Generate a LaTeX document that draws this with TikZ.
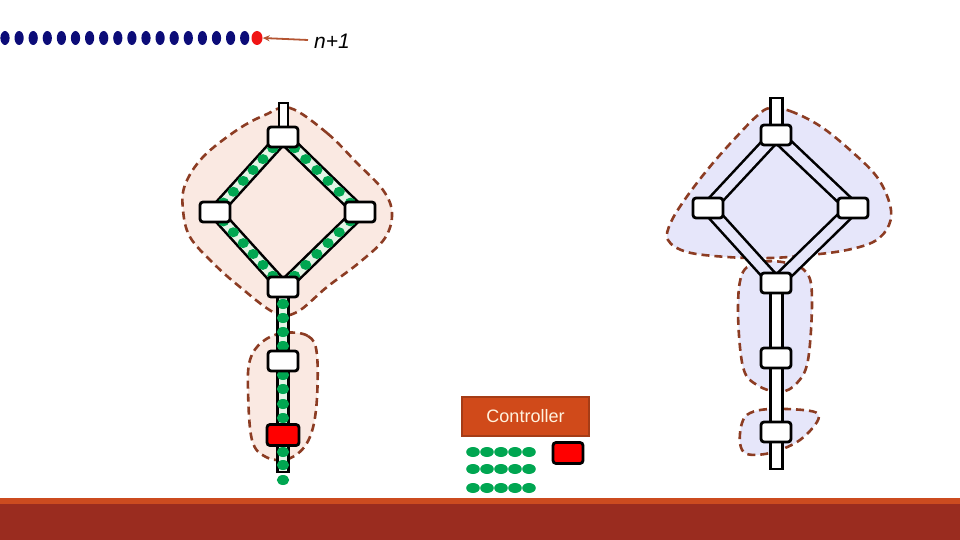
\documentclass[tikz,border=0pt]{standalone}
\usepackage{fontspec}
\setmainfont{Liberation Sans}
\usetikzlibrary{calc,backgrounds,arrows.meta,shapes.geometric}
\definecolor{navydot}{RGB}{12,12,120}
\definecolor{reddot}{RGB}{240,20,20}
\definecolor{greendot}{RGB}{0,166,81}
\definecolor{hullbrown}{RGB}{140,60,35}
\definecolor{pinkfill}{RGB}{250,233,226}
\definecolor{lavfill}{RGB}{230,230,250}
\definecolor{mint}{RGB}{228,244,230}
\definecolor{ctrlfill}{RGB}{208,74,26}
\definecolor{ctrlborder}{RGB}{165,60,22}
\definecolor{ctrltext}{RGB}{255,242,222}
\definecolor{barorange}{RGB}{204,75,31}
\definecolor{bardark}{RGB}{154,44,31}
\definecolor{arrowbrown}{RGB}{180,85,50}
\begin{document}
\begin{tikzpicture}[x=1pt,y=-1pt,
  box/.style={draw=black, line width=2.8pt, fill=white, rounded corners=3pt,
    minimum width=30pt, minimum height=20pt, inner sep=0pt},
  redbox/.style={box, fill=red, minimum width=32pt, minimum height=21pt},
  hull/.style={draw=hullbrown, line width=2.6pt, dash pattern=on 8pt off 5pt},
  greenband/.style={draw=black, line width=2.6pt, double=mint, double distance=9pt},
  lavband/.style={draw=black, line width=2.6pt, double=lavfill, double distance=9.5pt},
  stem/.style={draw=black, line width=2.8pt},
  gdot/.style={fill=greendot},
  ctrl/.style={draw=ctrlborder, line width=1.2pt, fill=ctrlfill, text=ctrltext,
    minimum width=127pt, minimum height=39pt, inner sep=0pt,
    font=\fontsize{18}{20}\selectfont}
]
\useasboundingbox (0,0) rectangle (960,540);

% ---------- top row ----------
\foreach \i in {0,...,17}
  \fill[navydot] (5+\i*14.1,38) ellipse[x radius=4.6pt, y radius=7pt];
\node[ellipse, fill=reddot, minimum width=11pt, minimum height=14pt, inner sep=0pt] (nd) at (257,38) {};
\node[anchor=west, inner sep=0pt, font=\itshape\fontsize{21}{24}\selectfont] (lbl) at (314,41) {n+1};
\draw[arrowbrown, line width=1.8pt, -{Stealth[length=7pt,width=6pt]}] (lbl.west) ++(-6,-1) coordinate (aa) (aa) -- (nd.east);

% ---------- left structure nodes ----------
\node[box] (lt) at (283,137) {};
\node[box] (ll) at (215,212) {};
\node[box] (lr) at (360,212) {};
\node[box] (lb) at (283,287) {};
\node[box] (lm) at (283,361) {};
\node[redbox] (lred) at (283,435) {};

% ---------- right structure nodes ----------
\node[box] (rt) at (776,135) {};
\node[box] (rl) at (708,208) {};
\node[box] (rr) at (853,208) {};
\node[box] (rb) at (776,283) {};
\node[box] (rm) at (776,358) {};
\node[box] (rlow) at (776,432) {};

% ---------- controller ----------
\node[ctrl] (ctrl) at (525.5,416.5) {Controller};
\node[redbox, minimum width=30pt] (cred) at (568,453) {};
\foreach \r in {452,469,488}
  \foreach \i in {0,...,4}
    \fill[gdot] (473+\i*14,\r) ellipse[x radius=6.8pt, y radius=5pt];

\begin{scope}[on background layer]
  % hulls
  \draw[hull, fill=pinkfill] plot[smooth cycle, tension=0.6] coordinates {
    (290,108) (327,133) (357,163) (383,190) (392,213) (385,238) (360,262)
    (327,287) (297,312) (275,313) (240,287) (213,263) (190,237) (183,210)
    (185,185) (203,157) (237,130) (265,115)};
  \draw[hull, fill=pinkfill] plot[smooth cycle, tension=0.6] coordinates {
    (283,333) (308,336) (317,355) (316,410) (307,443) (288,459) (266,457)
    (252,440) (248,390) (250,360) (262,342)};
  \draw[hull, fill=lavfill] plot[smooth cycle, tension=0.6] coordinates {
    (770,108) (790,111) (820,126) (850,150) (877,177) (890,205) (889,225)
    (875,241) (847,250) (810,255) (770,258) (727,257) (687,252) (668,240)
    (671,222) (688,195) (713,163) (740,133) (758,115)};
  \draw[hull, fill=lavfill] plot[smooth cycle, tension=0.6] coordinates {
    (763,262) (787,263) (807,273) (812,300) (808,360) (797,383) (780,392)
    (757,385) (743,367) (738,310) (743,272)};
  \draw[hull, fill=lavfill] plot[smooth cycle, tension=0.6] coordinates {
    (750,413) (770,409) (803,410) (818,414) (815,425) (797,442) (770,453)
    (747,454) (740,443) (742,423)};

  % left stub and stem
  \draw[stem, fill=white] (279,103) rectangle (288,128);
  \draw[stem, fill=mint] (277.5,287) rectangle (288.5,472);
  % right stub and stem
  \draw[stem, fill=white] (770.5,98) rectangle (782.5,126);
  \draw[stem, fill=white] (770.5,283) rectangle (782.5,469);

  % left diamond bands
  \draw[greenband] (lt.center) -- (ll.center);
  \draw[greenband] (lt.center) -- (lr.center);
  \draw[greenband] (ll.center) -- (lb.center);
  \draw[greenband] (lr.center) -- (lb.center);
  % right diamond bands
  \draw[lavband] (rt.center) -- (rl.center);
  \draw[lavband] (rt.center) -- (rr.center);
  \draw[lavband] (rl.center) -- (rb.center);
  \draw[lavband] (rr.center) -- (rb.center);

  % green dots on left diamond
  \foreach \a/\b in {lt/ll, lt/lr, lb/ll, lb/lr}
    \foreach \t in {0.15,0.295,0.44,0.585,0.73,0.875}
      \fill[gdot] ($(\a.center)!\t!(\b.center)$) ellipse[x radius=5.6pt, y radius=5pt];
  % green dots on left stem
  \foreach \y in {304,318,332,346,375,389,404,418,452,465,480}
    \fill[gdot] (283,\y) ellipse[x radius=6.2pt, y radius=5pt];
\end{scope}

% ---------- bottom bar ----------
\fill[barorange] (0,497.5) rectangle (960,504);
\fill[bardark] (0,504) rectangle (960,540);
\end{tikzpicture}
\end{document}
